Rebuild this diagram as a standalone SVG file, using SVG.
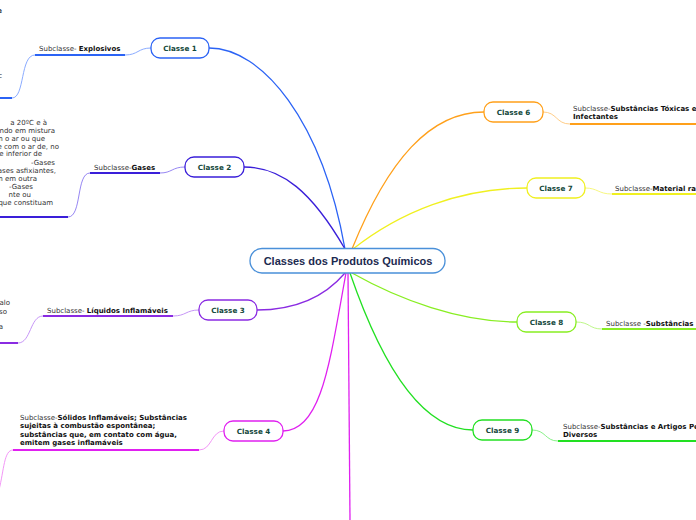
<svg xmlns="http://www.w3.org/2000/svg" width="696" height="520" viewBox="0 0 696 520">
<style>
.node rect{fill:#fff;stroke-width:1.3}
.cl{font-family:"DejaVu Sans",Verdana,sans-serif;font-size:7.2px;font-weight:bold;fill:#12473a;text-anchor:middle}
.sub{font-family:"DejaVu Sans",Verdana,sans-serif;font-size:7px;fill:#333}
.sub .b{font-weight:bold;fill:#111}
.frag{font-family:"DejaVu Sans",Verdana,sans-serif;font-size:7px;fill:#333;text-anchor:end}
.main{fill:none;stroke-width:1.3}
.thin{fill:none;stroke-width:0.9}
.thick{fill:none;stroke-width:2}
</style>
<rect width="696" height="520" fill="#fff"/>
<g id="connectors">
<path class="main" stroke="#2b63f5" d="M345,249 C322,120 262,48 209,48"/>
<path class="main" stroke="#3a1fd9" d="M345,249 C312,192 282,167 244,167"/>
<path class="main" stroke="#8a2be2" d="M345,273 C322,300 292,310 257,310"/>
<path class="main" stroke="#e020f0" d="M346,273 C330,360 322,431 283,431"/>
<path class="main" stroke="#e020f0" d="M348,273 L350,520"/>
<path class="main" stroke="#ffa01a" d="M352,249 C388,160 430,112 484,112"/>
<path class="main" stroke="#f0f020" d="M353,249 C400,212 460,188 527,188"/>
<path class="main" stroke="#88ee22" d="M352,273 C400,300 460,322 517,322"/>
<path class="main" stroke="#22e022" d="M350,273 C380,360 420,430 473,430"/>
<!-- subclass chains -->
<path class="thin" stroke="#7da2ff" d="M151,48 C138,48 138,55 125,55"/>
<path class="thick" stroke="#2b63f5" d="M125,55 L35,55"/>
<path class="thin" stroke="#7da2ff" d="M35,55 C20,55 25,98 12,98"/>
<path class="thick" stroke="#2b63f5" d="M12,98 L0,98"/>
<path class="thin" stroke="#8a78f0" d="M185,167 C172,167 172,173 160,173"/>
<path class="thick" stroke="#3a1fd9" d="M160,173 L90,173"/>
<path class="thin" stroke="#8a78f0" d="M90,173 C76,173 82,217 68,217"/>
<path class="thick" stroke="#3a1fd9" d="M68,217 L0,217"/>
<path class="thin" stroke="#c08af5" d="M199,310 C186,310 186,316 173,316"/>
<path class="thick" stroke="#8a2be2" d="M173,316 L43,316"/>
<path class="thin" stroke="#c08af5" d="M43,316 C30,316 31,343 18,343"/>
<path class="thick" stroke="#8a2be2" d="M18,343 L0,343"/>
<path class="thin" stroke="#f08af5" d="M224,431 C211,431 212,450 199,450"/>
<path class="thick" stroke="#e020f0" d="M199,450 L13,450"/>
<path class="thin" stroke="#f08af5" d="M13,450 C4,450 4,470 -1,490"/>
<path class="thin" stroke="#ffc77a" d="M543,112 C557,112 556,124 570,124"/>
<path class="thick" stroke="#ffa01a" d="M570,124 L696,124"/>
<path class="thin" stroke="#f5f570" d="M585,188 C598,188 598,194 612,194"/>
<path class="thick" stroke="#f0f020" d="M612,194 L696,194"/>
<path class="thin" stroke="#b5f57a" d="M576,322 C590,322 589,329 602,329"/>
<path class="thick" stroke="#88ee22" d="M602,329 L696,329"/>
<path class="thin" stroke="#7aee7a" d="M532,430 C546,430 545,441 558,441"/>
<path class="thick" stroke="#22e022" d="M558,441 L696,441"/>
</g>
<g id="center" class="node">
<rect x="250" y="248.5" width="195" height="24.5" rx="12" stroke="#4a90d9" stroke-width="1"/>
<text x="348" y="265" font-family="'Liberation Sans',Arial,sans-serif" font-size="11" font-weight="bold" fill="#1c2a4f" text-anchor="middle">Classes dos Produtos Químicos</text>
</g>
<g id="classe1" class="node"><rect x="151" y="38" width="58" height="20" rx="9" stroke="#2b63f5"/><text class="cl" x="180" y="50.6">Classe 1</text></g>
<g id="classe2" class="node"><rect x="185" y="157" width="59" height="20" rx="9" stroke="#3a1fd9"/><text class="cl" x="214.5" y="169.6">Classe 2</text></g>
<g id="classe3" class="node"><rect x="199" y="300" width="58" height="20" rx="9" stroke="#8a2be2"/><text class="cl" x="228" y="312.6">Classe 3</text></g>
<g id="classe4" class="node"><rect x="224" y="421" width="59" height="20" rx="9" stroke="#e020f0"/><text class="cl" x="253.5" y="433.6">Classe 4</text></g>
<g id="classe6" class="node"><rect x="484" y="102" width="59" height="20" rx="9" stroke="#ffa01a"/><text class="cl" x="513.5" y="114.6">Classe 6</text></g>
<g id="classe7" class="node"><rect x="527" y="178" width="58" height="20" rx="9" stroke="#f0f020"/><text class="cl" x="556" y="190.6">Classe 7</text></g>
<g id="classe8" class="node"><rect x="517" y="312" width="59" height="20" rx="9" stroke="#88ee22"/><text class="cl" x="546.5" y="324.6">Classe 8</text></g>
<g id="classe9" class="node"><rect x="473" y="420" width="59" height="20" rx="9" stroke="#22e022"/><text class="cl" x="502.5" y="432.6">Classe 9</text></g>
<g id="sub1"><text class="sub" x="39" y="50.5">Subclasse- <tspan class="b">Explosivos</tspan></text></g>
<g id="sub2"><text class="sub" x="94" y="169.5">Subclasse-<tspan class="b">Gases</tspan></text></g>
<g id="sub3"><text class="sub" x="47" y="312.5">Subclasse- <tspan class="b">Líquidos Inflamáveis</tspan></text></g>
<g id="sub4"><text class="sub" x="20" y="419.5">Subclasse-<tspan class="b">Sólidos Inflamáveis; Substâncias</tspan></text>
<text class="sub" x="20" y="428"><tspan class="b">sujeitas à combustão espontânea;</tspan></text>
<text class="sub" x="20" y="436.5"><tspan class="b">substâncias que, em contato com água,</tspan></text>
<text class="sub" x="20" y="445"><tspan class="b">emitem gases inflamáveis</tspan></text></g>
<g id="sub6"><text class="sub" x="573" y="110.5">Subclasse-<tspan class="b">Substâncias Tóxicas e</tspan></text>
<text class="sub" x="573" y="119"><tspan class="b">Infectantes</tspan></text></g>
<g id="sub7"><text class="sub" x="615" y="190.5">Subclasse-<tspan class="b">Material ra</tspan></text></g>
<g id="sub8"><text class="sub" x="606" y="325.5">Subclasse -<tspan class="b">Substâncias</tspan></text></g>
<g id="sub9"><text class="sub" x="563" y="428.5">Subclasse-<tspan class="b">Substâncias e Artigos Pe</tspan></text>
<text class="sub" x="563" y="437"><tspan class="b">Diversos</tspan></text></g>
<g id="fragments">
<text class="frag" x="2" y="13" font-weight="bold" fill="#111">e</text>
<text class="frag" x="2" y="78">c</text>
<text class="frag" x="47" y="125">a 20ºC e à</text>
<text class="frag" x="55" y="133">ando em mistura</text>
<text class="frag" x="45" y="141">m o ar ou que</text>
<text class="frag" x="59" y="148.5">e com o ar de, no</text>
<text class="frag" x="42" y="156">ite inferior de</text>
<text class="frag" x="55" y="164.5">-Gases</text>
<text class="frag" x="56" y="172.5">gases asfixiantes,</text>
<text class="frag" x="37" y="181">m em outra</text>
<text class="frag" x="33" y="188.5">-Gases</text>
<text class="frag" x="31" y="196.5">nte ou</text>
<text class="frag" x="53" y="204.5">s que constituam</text>
<text class="frag" x="10" y="305">alo</text>
<text class="frag" x="7" y="313.5">so</text>
<text class="frag" x="3" y="329">a</text>
</g>
</svg>
